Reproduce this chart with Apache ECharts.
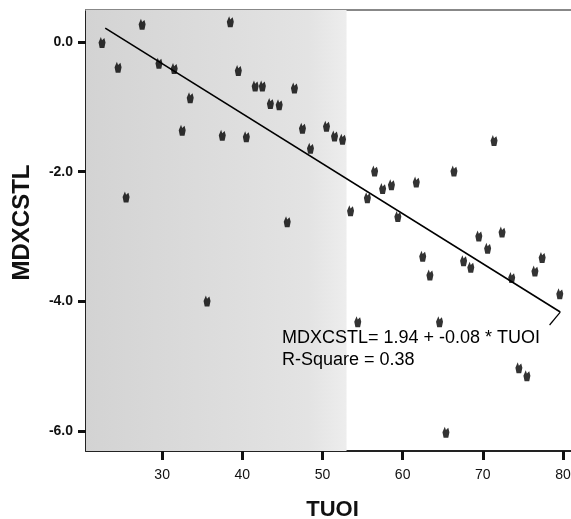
<!DOCTYPE html>
<html>
<head>
<meta charset="utf-8">
<script src="https://cdn.jsdelivr.net/npm/echarts@6/dist/echarts.min.js"></script>
<style>html,body{margin:0;padding:0;background:#fff;}#c{width:571px;height:519px;}</style>
</head>
<body>
<div id="c"></div>
<script>
// ---- data ----
const tuoi = [22.5,27.5,24.5,29.6,31.5,38.5,39.5,33.5,32.5,37.5,40.5,41.6,42.5,43.5,44.6,46.5,47.5,50.5,51.5,52.5,48.5,25.5,35.6,45.6,53.5,55.6,56.5,57.5,58.6,59.4,61.7,66.4,71.4,69.5,72.4,70.6,62.5,67.6,77.4,63.4,68.5,76.5,73.6,79.6,64.6,54.4,74.5,75.5,65.4];
const mdxcstl = [-0.01,0.27,-0.39,-0.33,-0.41,0.31,-0.44,-0.86,-1.36,-1.44,-1.46,-0.68,-0.68,-0.95,-0.97,-0.71,-1.33,-1.30,-1.45,-1.50,-1.64,-2.39,-3.99,-2.77,-2.60,-2.40,-1.99,-2.26,-2.20,-2.69,-2.16,-1.99,-1.52,-2.99,-2.93,-3.18,-3.30,-3.37,-3.32,-3.59,-3.47,-3.53,-3.63,-3.88,-4.31,-4.31,-5.02,-5.14,-6.01];
const fitX = [22.9, 79.66];
const fitY = [0.21, -4.16];
const leaderX = [79.66, 78.33];
const leaderY = [-4.16, -4.36];
const xTicks = [30,40,50,60,70,80];
const yTicks = [0,-2,-4,-6];
const shadeX = [20.5, 53];
const xName = 'TUOI';
const yName = 'MDXCSTL';
const eqText = ['MDXCSTL= 1.94 + -0.08 * TUOI', 'R-Square = 0.38'];
const X_MIN = 20.5, X_MAX = 81, Y_MIN = -6.3, Y_MAX = 0.49;

const pts = tuoi.map((x,i)=>[x, mdxcstl[i]]);
const fit = fitX.map((x,i)=>[x, fitY[i]]);
const leader = leaderX.map((x,i)=>[x, leaderY[i]]);

const chart = echarts.init(document.getElementById('c'));
const font = 'Liberation Sans, Arial, sans-serif';
chart.setOption({
  animation: false,
  backgroundColor: '#fff',
  grid: {left: 86, right: 0, top: 10, bottom: 68, outerBoundsMode: 'none', containLabel: false},
  title: {
    text: eqText.join('\n'),
    left: 277, top: 322,
    textStyle: {fontFamily: font, fontSize: 18, fontWeight: 'normal', color: '#000', lineHeight: 22}
  },
  xAxis: [{
    type: 'value', min: X_MIN, max: X_MAX,
    name: xName, nameLocation: 'middle', nameGap: 48,
    nameTextStyle: {fontFamily: font, fontSize: 22, fontWeight: 'bold', color: '#111', padding: [0, 0, 0, 8]},
    axisLine: {show: true, onZero: false, lineStyle: {color: '#222', width: 2}},
    axisTick: {show: true, customValues: xTicks, length: 9, lineStyle: {color: '#111', width: 3}},
    axisLabel: {customValues: xTicks, margin: 17, fontFamily: font, fontSize: 14, color: '#111'},
    splitLine: {show: false}
  },{
    type: 'value', position: 'top', min: X_MIN, max: X_MAX,
    axisLine: {show: true, onZero: false, lineStyle: {color: '#888', width: 2}},
    axisTick: {show: false}, axisLabel: {show: false}, splitLine: {show: false}
  }],
  yAxis: {
    type: 'value', min: Y_MIN, max: Y_MAX,
    name: yName, nameLocation: 'middle', nameGap: 52,
    nameTextStyle: {fontFamily: font, fontSize: 24, fontWeight: 'bold', color: '#111', padding: [0, 0, 0, 16]},
    axisLine: {show: true, onZero: false, lineStyle: {color: '#222', width: 2}},
    axisTick: {show: true, customValues: yTicks, length: 8, lineStyle: {color: '#111', width: 3}},
    axisLabel: {customValues: yTicks, margin: 13, fontFamily: font, fontSize: 14, fontWeight: 'bold', color: '#111',
      formatter: v => v.toFixed(1)},
    splitLine: {show: false}
  },
  series: [{
    type: 'scatter', data: pts,
    symbol: 'path://M2,0 L3,3 L5,1 L6,5 L5,10 L1,10 L0,5 Z',
    symbolSize: [7, 11],
    itemStyle: {color: '#000'},
    z: 5,
    markArea: {
      silent: true,
      itemStyle: {color: {type: 'linear', x: 0, y: 0, x2: 1, y2: 0,
        colorStops: [{offset: 0, color: '#d3d3d3'}, {offset: 0.85, color: '#e3e3e3'}, {offset: 1, color: '#ededed'}]}},
      data: [[{xAxis: shadeX[0]}, {xAxis: shadeX[1]}]]
    }
  },{
    type: 'line', data: fit, symbol: 'none', z: 4,
    lineStyle: {color: '#000', width: 1.6}
  },{
    type: 'line', data: leader, symbol: 'none', z: 4,
    lineStyle: {color: '#000', width: 1.2}
  }]
});
</script>
</body>
</html>
